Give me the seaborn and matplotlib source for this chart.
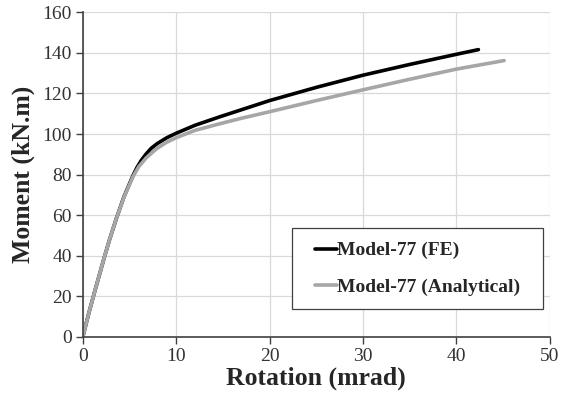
import numpy as np
import pandas as pd
import seaborn as sns
import matplotlib.pyplot as plt
from matplotlib.patches import Rectangle

# Data
fe_rot = [0, 0.6, 1.28, 1.8, 2.35, 2.9, 3.6, 4.4, 5.37, 5.8, 6.26, 6.8, 7.33, 8.0, 9.0, 10.0,
          12.0, 14.6, 17.0, 20.0, 25.0, 30.0, 35.0, 40.0, 42.35]
fe_mom = [0, 11, 22.5, 31, 40, 48.5, 58.5, 69, 79.5, 83.5, 87, 90.3, 93.0, 95.4, 98.2, 100.4,
          104.3, 108.4, 112, 116.5, 123, 129, 134.3, 139.3, 141.6]
an_rot = [0, 0.6, 1.28, 1.8, 2.35, 2.9, 3.6, 4.4, 5.37, 6.0, 6.8, 7.9, 9.0, 10.0,
          12.0, 14.6, 17.0, 20.0, 25.0, 30.0, 35.0, 40.0, 45.1]
an_mom = [0, 11, 22.5, 31, 40, 48.5, 58.5, 68.8, 79, 84, 88.3, 92.8, 96, 98.2,
          101.8, 105.0, 107.8, 111.0, 116.5, 121.8, 127, 132, 136.2]

df = pd.concat([
    pd.DataFrame({"Rotation": fe_rot, "Moment": fe_mom, "Series": "Model-77 (FE)"}),
    pd.DataFrame({"Rotation": an_rot, "Moment": an_mom, "Series": "Model-77 (Analytical)"}),
])

sns.set_theme(style="white")
plt.rcParams["font.family"] = ["Liberation Serif", "DejaVu Serif"]

fig, ax = plt.subplots(figsize=(5.71, 3.96), dpi=100)
fig.subplots_adjust(left=0.145, right=0.963, top=0.969, bottom=0.149)

sns.lineplot(data=df, x="Rotation", y="Moment", hue="Series", sort=False,
             palette={"Model-77 (FE)": "#000000", "Model-77 (Analytical)": "#a6a6a6"},
             linewidth=2.6, ax=ax, estimator=None, solid_capstyle="round",
             solid_joinstyle="round")

ax.set_xlim(0, 50)
ax.set_ylim(0, 160)
ax.set_xticks(range(0, 51, 10))
ax.set_yticks(range(0, 161, 20))
ax.grid(True, color="#d9d9d9", linewidth=0.9)
ax.set_axisbelow(True)

for s in ["top", "right"]:
    ax.spines[s].set_visible(False)
for s in ["left", "bottom"]:
    ax.spines[s].set_color("#404040")
    ax.spines[s].set_linewidth(1.2)

ax.tick_params(axis="both", which="major", direction="out", length=5, width=1,
               color="#404040", labelsize=14, labelcolor="#333333", pad=3, bottom=True, left=True)

ax.set_xlabel("Rotation (mrad)", fontsize=18.5, fontweight="bold", labelpad=1)
ax.set_ylabel("Moment (kN.m)", fontsize=18.5, fontweight="bold", labelpad=5)

# legend frame box (axes fraction) and legend contents centered in it
bx0, by0, bx1, by1 = 0.4475, 0.086, 0.985, 0.335
ax.add_patch(Rectangle((bx0, by0), bx1 - bx0, by1 - by0, transform=ax.transAxes,
                       facecolor="white", edgecolor="#404040", linewidth=0.9, zorder=4))
leg = ax.legend(loc="center", bbox_to_anchor=((bx0 + bx1) / 2, (by0 + by1) / 2),
                frameon=False, fontsize=14, handlelength=1.15, handletextpad=0.0,
                labelspacing=0.95, borderpad=0.0, borderaxespad=0)
leg.set_zorder(5)
for t in leg.get_texts():
    t.set_fontweight("bold")

fig.savefig("out.png", dpi=100)
